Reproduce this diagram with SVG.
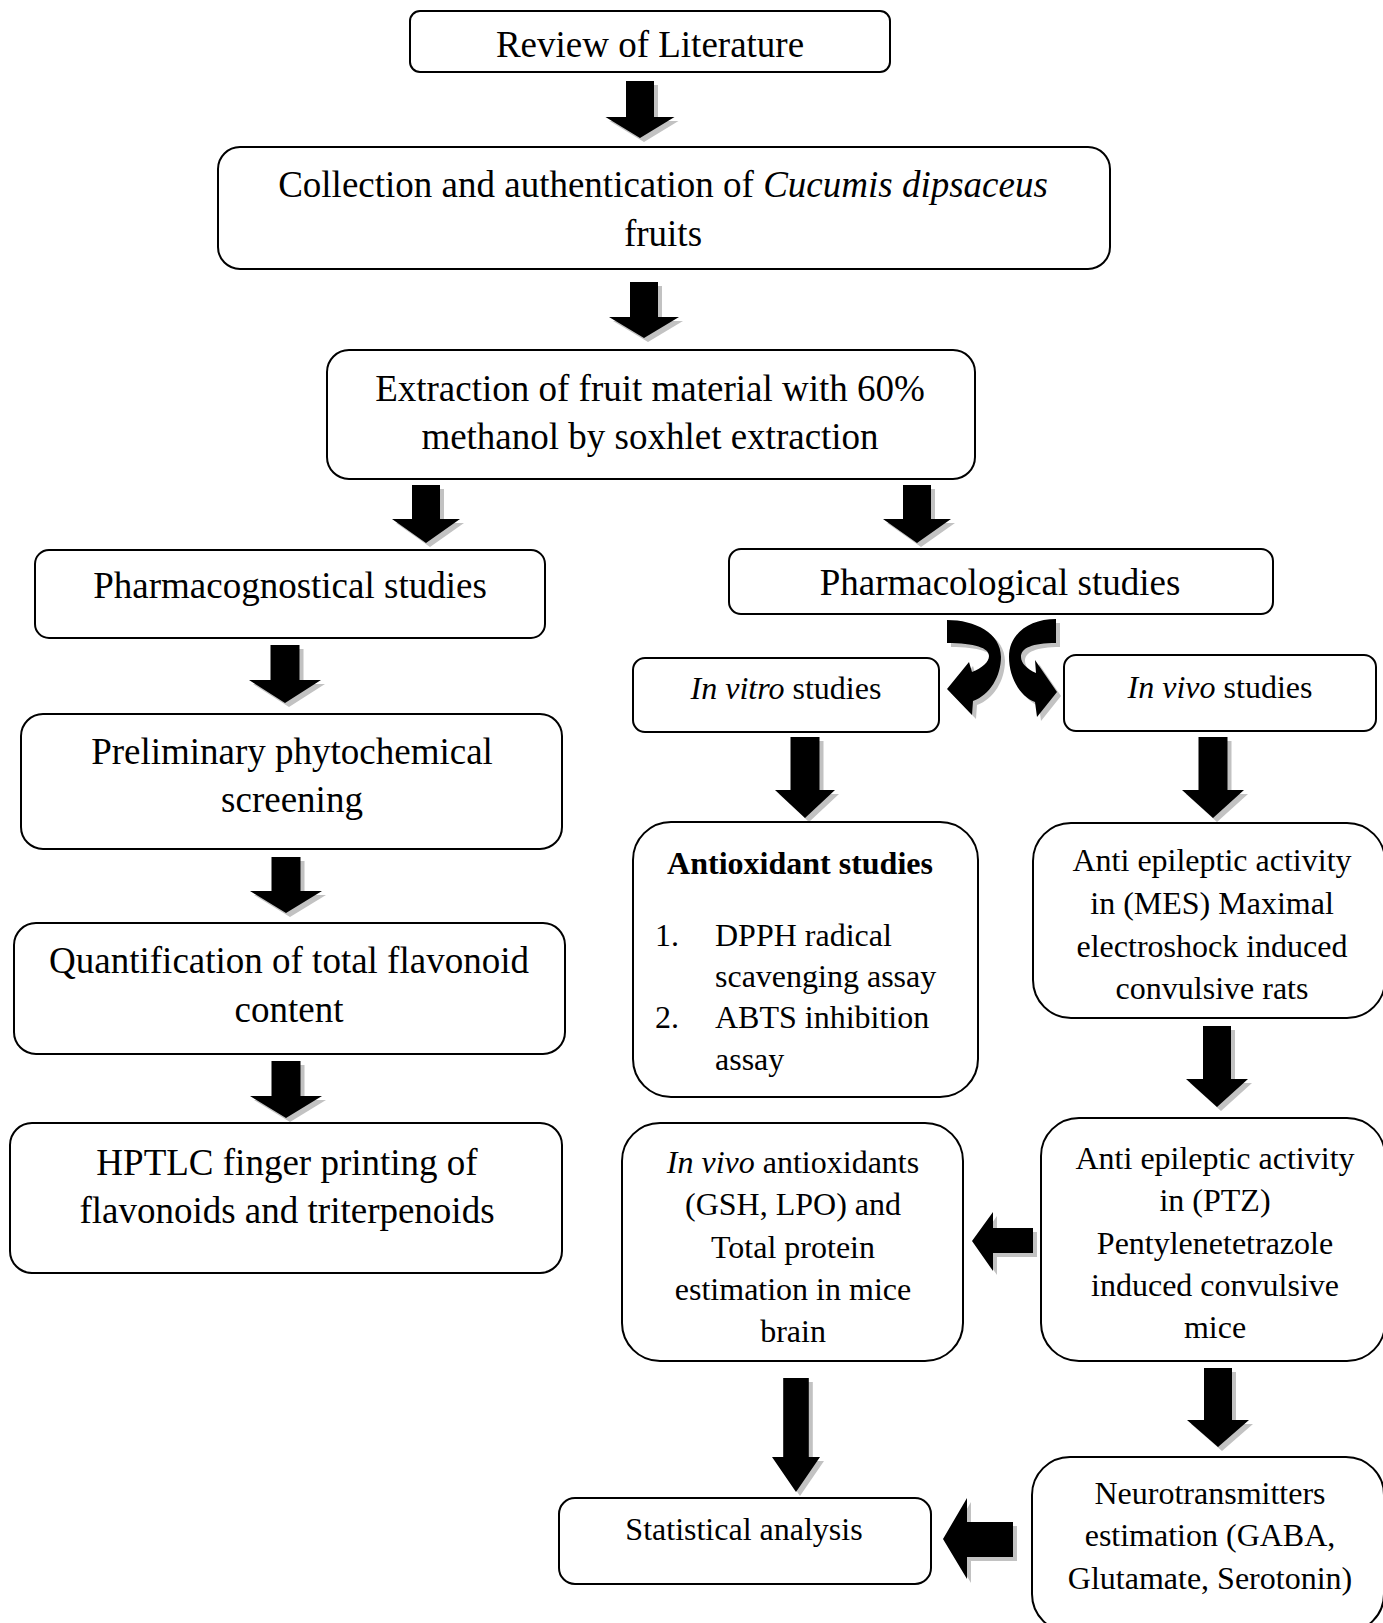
<svg xmlns="http://www.w3.org/2000/svg" width="1383" height="1623" viewBox="0 0 1383 1623">
<style>
.box{fill:#fff;stroke:#000;stroke-width:2}
.L{font-family:"Liberation Serif","Times New Roman",serif;font-size:37px;text-anchor:middle;fill:#000}
.M{font-family:"Liberation Serif","Times New Roman",serif;font-size:32px;text-anchor:middle;fill:#000}
.S{font-family:"Liberation Serif","Times New Roman",serif;font-size:32px;fill:#000}
.i{font-style:italic}
.b{font-weight:bold}
.ar{fill:#000}
.sh{fill:#c2c2c2}
</style>
<rect width="1383" height="1623" fill="#fff"/>

<g id="connectors">
  <g transform="translate(4,4)" class="sh">
    <path d="M626 81H654V117H674.5L640 138L605.5 117H626Z"/>
    <path d="M630 282H658V317H679L644 338L609 317H630Z"/>
    <path d="M412 485H440V519H460L426 543L392 519H412Z"/>
    <path d="M903 485H931V519H951L917 543L883 519H903Z"/>
    <path d="M270.5 645H299.5V680H321L285 703L249 680H270.5Z"/>
    <path d="M271.5 857H300.5V891H322L286 913L250 891H271.5Z"/>
    <path d="M271.5 1061H300.5V1096H322L286 1118L250 1096H271.5Z"/>
    <path d="M790.5 737H819.5V790H835L805 818L775 790H790.5Z"/>
    <path d="M1198.5 737H1227.5V790H1244L1213 818L1182 790H1198.5Z"/>
    <path d="M1203 1026H1231V1079H1248L1217 1107L1186 1079H1203Z"/>
    <path d="M1204 1368H1232V1420H1249L1218 1447L1187 1420H1204Z"/>
    <path d="M783.2 1378H808.8V1457H820L796 1492L772 1457H783.2Z"/>
    <path d="M1033 1228H993V1212L972 1241L993 1271V1253H1033Z"/>
    <path d="M1013 1522H967V1498L943 1539L967 1579V1557H1013Z"/>
    <path d="M947 620C975 620 1001 633 1001 657C1001 676 990 695 973 701L972 715L947 689L969 662L972 672C982 668 989 662 989 656C989 648 975 643 947 643Z"/>
    <path d="M1056 619C1030 619 1009 633 1009 657C1009 676 1019 696 1035 702L1037 717L1057 692L1035 660L1036 673C1027 669 1021 663 1021 657C1021 648 1032 643 1056 643Z"/>
  </g>
  <g class="ar">
    <path d="M626 81H654V117H674.5L640 138L605.5 117H626Z"/>
    <path d="M630 282H658V317H679L644 338L609 317H630Z"/>
    <path d="M412 485H440V519H460L426 543L392 519H412Z"/>
    <path d="M903 485H931V519H951L917 543L883 519H903Z"/>
    <path d="M270.5 645H299.5V680H321L285 703L249 680H270.5Z"/>
    <path d="M271.5 857H300.5V891H322L286 913L250 891H271.5Z"/>
    <path d="M271.5 1061H300.5V1096H322L286 1118L250 1096H271.5Z"/>
    <path d="M790.5 737H819.5V790H835L805 818L775 790H790.5Z"/>
    <path d="M1198.5 737H1227.5V790H1244L1213 818L1182 790H1198.5Z"/>
    <path d="M1203 1026H1231V1079H1248L1217 1107L1186 1079H1203Z"/>
    <path d="M1204 1368H1232V1420H1249L1218 1447L1187 1420H1204Z"/>
    <path d="M783.2 1378H808.8V1457H820L796 1492L772 1457H783.2Z"/>
    <path d="M1033 1228H993V1212L972 1241L993 1271V1253H1033Z"/>
    <path d="M1013 1522H967V1498L943 1539L967 1579V1557H1013Z"/>
    <path d="M947 620C975 620 1001 633 1001 657C1001 676 990 695 973 701L972 715L947 689L969 662L972 672C982 668 989 662 989 656C989 648 975 643 947 643Z"/>
    <path d="M1056 619C1030 619 1009 633 1009 657C1009 676 1019 696 1035 702L1037 717L1057 692L1035 660L1036 673C1027 669 1021 663 1021 657C1021 648 1032 643 1056 643Z"/>
  </g>
</g>

<g id="n-review">
  <rect class="box" x="410" y="11" width="480" height="61" rx="10"/>
  <text class="L" x="650" y="57">Review of Literature</text>
</g>
<g id="n-collection">
  <rect class="box" x="218" y="147" width="892" height="122" rx="22"/>
  <text class="L" x="663" y="197">Collection and authentication of <tspan class="i">Cucumis dipsaceus</tspan></text>
  <text class="L" x="663" y="246">fruits</text>
</g>
<g id="n-extraction">
  <rect class="box" x="327" y="350" width="648" height="129" rx="22"/>
  <text class="L" x="650" y="401">Extraction of fruit material with 60%</text>
  <text class="L" x="650" y="449">methanol by soxhlet extraction</text>
</g>
<g id="n-pharmacognostical">
  <rect class="box" x="35" y="550" width="510" height="88" rx="14"/>
  <text class="L" x="290" y="598">Pharmacognostical studies</text>
</g>
<g id="n-pharmacological">
  <rect class="box" x="729" y="549" width="544" height="65" rx="12"/>
  <text class="L" x="1000" y="595">Pharmacological studies</text>
</g>
<g id="n-preliminary">
  <rect class="box" x="21" y="714" width="541" height="135" rx="22"/>
  <text class="L" x="292" y="764">Preliminary phytochemical</text>
  <text class="L" x="292" y="812">screening</text>
</g>
<g id="n-quantification">
  <rect class="box" x="14" y="923" width="551" height="131" rx="22"/>
  <text class="L" x="289" y="973">Quantification of total flavonoid</text>
  <text class="L" x="289" y="1022">content</text>
</g>
<g id="n-hptlc">
  <rect class="box" x="10" y="1123" width="552" height="150" rx="22"/>
  <text class="L" x="287" y="1175">HPTLC finger printing of</text>
  <text class="L" x="287" y="1223">flavonoids and triterpenoids</text>
</g>
<g id="n-invitro">
  <rect class="box" x="633" y="658" width="306" height="74" rx="12"/>
  <text class="M" x="786" y="699"><tspan class="i">In vitro</tspan> studies</text>
</g>
<g id="n-invivo">
  <rect class="box" x="1064" y="655" width="312" height="76" rx="12"/>
  <text class="M" x="1220" y="698"><tspan class="i">In vivo</tspan> studies</text>
</g>
<g id="n-antioxidant">
  <rect class="box" x="633" y="822" width="345" height="275" rx="38"/>
  <text class="M b" x="800" y="874">Antioxidant studies</text>
  <text class="S" x="655" y="946">1.</text>
  <text class="S" x="715" y="946">DPPH radical</text>
  <text class="S" x="715" y="987">scavenging assay</text>
  <text class="S" x="655" y="1028">2.</text>
  <text class="S" x="715" y="1028">ABTS inhibition</text>
  <text class="S" x="715" y="1070">assay</text>
</g>
<g id="n-mes">
  <rect class="box" x="1033" y="823" width="352" height="195" rx="38"/>
  <text class="M" x="1212" y="871">Anti epileptic activity</text>
  <text class="M" x="1212" y="914">in (MES) Maximal</text>
  <text class="M" x="1212" y="957">electroshock induced</text>
  <text class="M" x="1212" y="999">convulsive rats</text>
</g>
<g id="n-ptz">
  <rect class="box" x="1041" y="1118" width="344" height="243" rx="38"/>
  <text class="M" x="1215" y="1169">Anti epileptic activity</text>
  <text class="M" x="1215" y="1211">in (PTZ)</text>
  <text class="M" x="1215" y="1254">Pentylenetetrazole</text>
  <text class="M" x="1215" y="1296">induced convulsive</text>
  <text class="M" x="1215" y="1338">mice</text>
</g>
<g id="n-invivo-antioxidants">
  <rect class="box" x="622" y="1123" width="341" height="238" rx="38"/>
  <text class="M" x="793" y="1173"><tspan class="i">In vivo</tspan> antioxidants</text>
  <text class="M" x="793" y="1215">(GSH, LPO) and</text>
  <text class="M" x="793" y="1258">Total protein</text>
  <text class="M" x="793" y="1300">estimation in mice</text>
  <text class="M" x="793" y="1342">brain</text>
</g>
<g id="n-statistical">
  <rect class="box" x="559" y="1498" width="372" height="86" rx="16"/>
  <text class="M" x="744" y="1540">Statistical analysis</text>
</g>
<g id="n-neuro">
  <rect class="box" x="1032" y="1457" width="352" height="175" rx="38"/>
  <text class="M" x="1210" y="1504">Neurotransmitters</text>
  <text class="M" x="1210" y="1546">estimation (GABA,</text>
  <text class="M" x="1210" y="1589">Glutamate, Serotonin)</text>
</g>
</svg>
